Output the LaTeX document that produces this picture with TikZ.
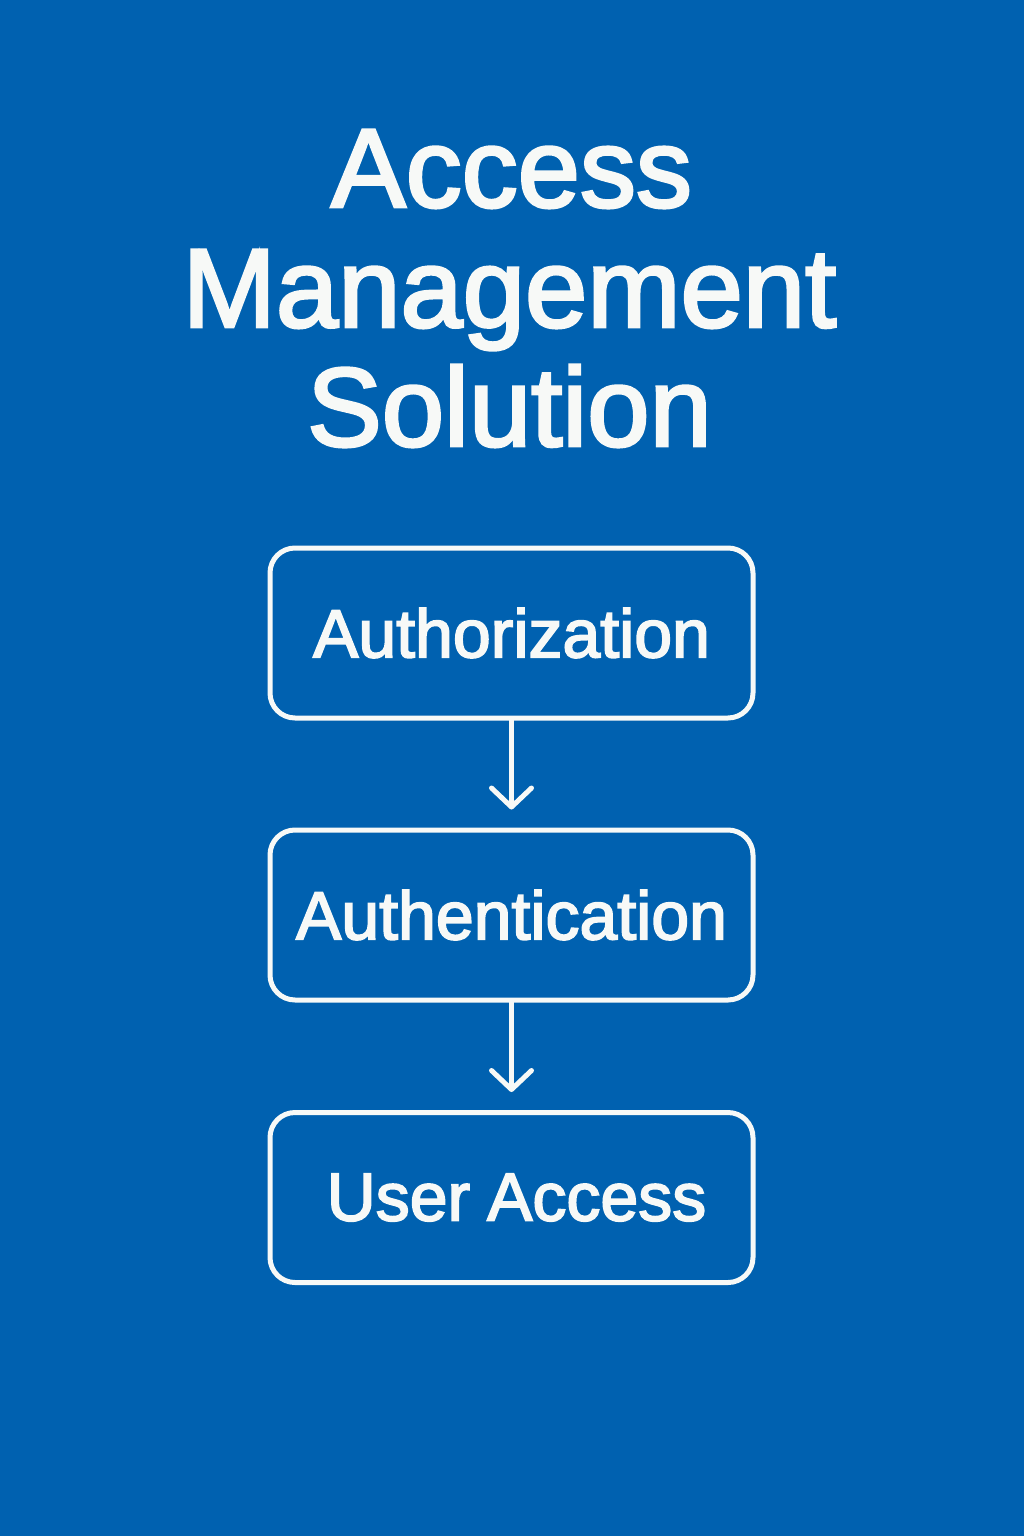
\documentclass[tikz,border=0pt]{standalone}
\usepackage{fontspec}
\setmainfont{Liberation Sans}
\newfontfamily\medfont{Liberation Sans}[FakeBold=2.6]
\usetikzlibrary{arrows.meta}
\definecolor{bgblue}{HTML}{0061B0}
\definecolor{fg}{HTML}{F7F9F7}
\begin{document}
\begin{tikzpicture}[x=0.5pt,y=-0.5pt,
  titletext/.style={text=fg,font=\medfont\fontsize{56}{60}\selectfont,inner sep=0pt,anchor=base},
  stepbox/.style={draw=fg,line width=2.5pt,rounded corners=12.5pt,minimum width=241.5pt,minimum height=85pt,inner sep=0pt,text=fg,font=\medfont\fontsize{34}{38}\selectfont},
  flow/.style={draw=fg,line width=2.5pt,line cap=round,-{Straight Barb[length=9.5pt,width=20pt,round]},shorten >=9pt}]
\fill[bgblue] (0,0) rectangle (1024,1536);
\useasboundingbox (0,0) rectangle (1024,1536);
\node[titletext] (t1) at (511.5,207) {Access};
\node[titletext] (t2) at (509.5,327) {Management};
\node[titletext] (t3) at (509.5,446) {Solution};
\node[stepbox] (b1) at (511.5,633) {Authorization};
\node[stepbox] (b2) at (511.5,915) {Authentication};
\node[stepbox] (b3) at (511.5,1197.5) {\hspace{5pt}User\hspace{-1pt} Access};
\draw[flow] (b1.south) -- (b2.north);
\draw[flow] (b2.south) -- (b3.north);
\end{tikzpicture}
\end{document}
